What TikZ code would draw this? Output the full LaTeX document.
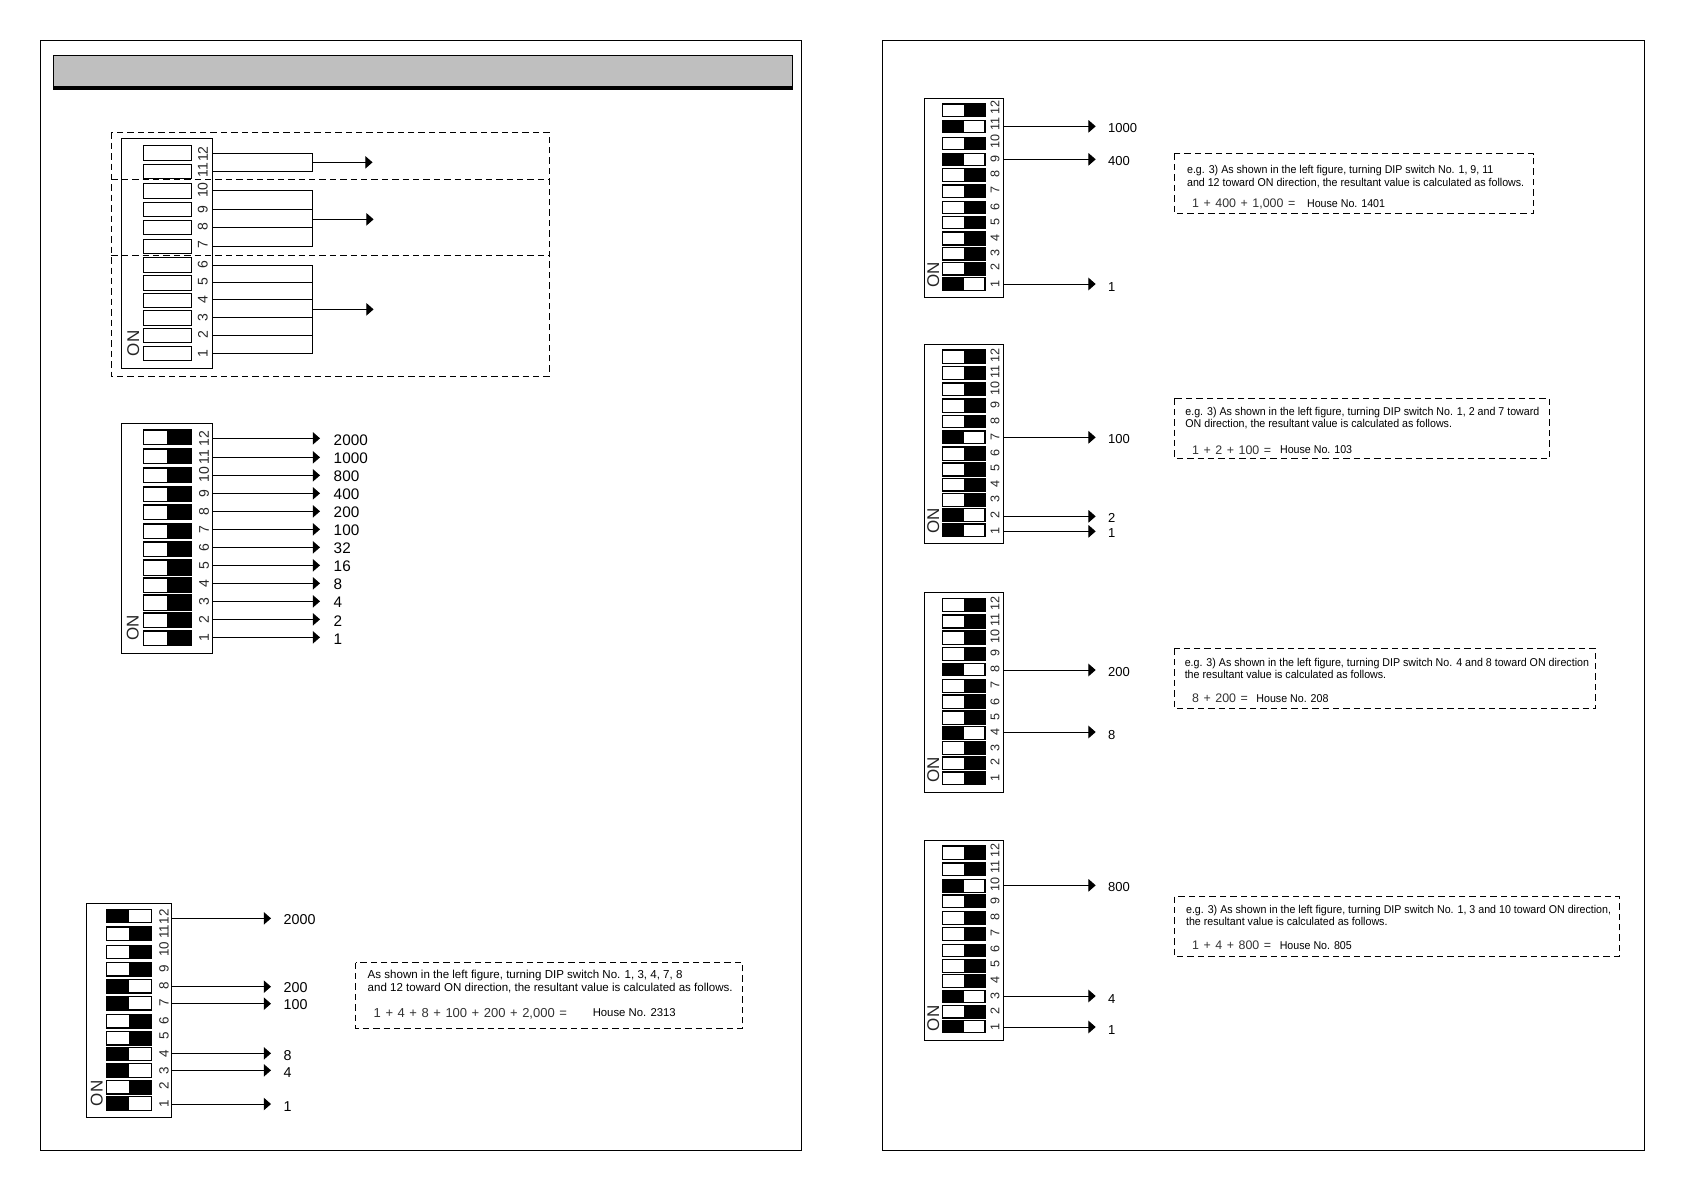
\documentclass[tikz,border=0pt]{standalone}
\usepackage{fontspec}
\setmainfont{Liberation Sans}
\newfontfamily\narrowsans[FakeStretch=0.94]{Liberation Sans}
\usetikzlibrary{arrows.meta}
\newcommand{\wideword}[2]{\spaceskip #1em\relax #2}
\tikzset{
  frameline/.style={draw=black,line width=0.5pt},
  dipcase/.style={draw=black,line width=0.55pt,fill=white},
  togline/.style={draw=black,line width=0.55pt,fill=white},
  wire/.style={draw=black,line width=0.5pt},
  arrowwire/.style={draw=black,line width=0.5pt,-{Triangle[length=3.6pt,width=6.2pt]}},
  dashbox/.style={draw=black,line width=0.5pt,dash pattern=on 3.2pt off 2pt},
  numlab/.style={anchor=base west,inner sep=0pt,yshift=-2.75pt,font=\fontsize{7.65}{9}\selectfont},
  dipnum/.style={rotate=90,inner sep=0pt,font=\fontsize{7}{8}\selectfont,text=black!85},
  onlab/.style={rotate=90,inner sep=0pt,font=\fontsize{8.5}{10}\selectfont,text=black!85},
  notetxt/.style={anchor=base west,inner sep=0pt,yshift=-2pt,font=\fontsize{5.77}{7}\selectfont},
  notenarrow/.style={anchor=base west,inner sep=0pt,yshift=-2pt,font=\narrowsans\fontsize{5.67}{7}\selectfont},
  formula/.style={anchor=base west,inner sep=0pt,yshift=-2.3pt,font=\fontsize{6.2}{8}\selectfont,text=black!80},
  zoomed/.style 2 args={shift={(#1,#2)},x=0.16667pt,y=-0.16667pt},
  rightfig/.style={numlab/.append style={font=\fontsize{6.5}{8}\selectfont},dipnum/.append style={font=\fontsize{6.3}{8}\selectfont}}
}
% prefix, case x0,y0,x1,y1, toggle x0,x1,split, rows top/bottom/state/number y
\newcommand{\dipsw}[9]{%
  \draw[dipcase] (#2,#3) rectangle (#4,#5);
  \foreach \tp/\bt/\st/\ly [count=\ii] in {#9}{%
    \pgfmathtruncatemacro{\nn}{13-\ii}%
    \filldraw[togline] (#6,\tp) rectangle (#7,\bt);
    \ifnum\st=1 \fill[black] (#6,\tp) rectangle (#8,\bt);\fi
    \ifnum\st=2 \fill[black] (#8,\tp) rectangle (#7,\bt);\fi
    \node[dipnum] (#1num\nn) at (\dipnx,\ly) {\nn};
  }%
}
\newcommand{\arrowto}[7]{%
  \coordinate (#1s) at (#2,#4);
  \coordinate (#1t) at (#3,#4);
  \draw[arrowwire] (#1s) -- (#1t);
  \node[numlab] (#1lab) at (#5,#6) {#7};
}
\begin{document}
\begin{tikzpicture}[x=0.5pt,y=-0.5pt]
\useasboundingbox (0,0) rectangle (1684,1190);
\fill[white] (0,0) rectangle (1684,1190);
% page frames
\draw[frameline] (40.5,40.5) rectangle (801.5,1150);
\draw[frameline] (882.5,40.5) rectangle (1644,1150);
% header
\draw[draw=black,line width=0.5pt,fill=black!25] (53,55) rectangle (792.5,87);
\fill[black] (52.7,86) rectangle (792.8,90);

% ---- Figure A
\begin{scope}[shift={(30,30)},x=0.17857pt,y=-0.16667pt]
\def\dipnx{484}
\dipsw{a}{256}{325}{511}{1015}{317}{453}{385}{
346/391/0/372,403/446/0/420,460/505/0/480,517/559/0/538,571/613/0/591,628/670/0/645,682/727/0/704,736/781/0/755,790/832/0/808,841/886/0/862,895/937/0/914,949/991/0/970}
\node[onlab] (aon) at (289,940) {ON};
\foreach \yy/\nm in {370/w12,424/w11}{\coordinate (a\nm s) at (511,\yy);\coordinate (a\nm e) at (791,\yy);\draw[wire] (a\nm s) -- (a\nm e);}
\draw[wire] (aw12e) -- (aw11e);
\coordinate (ab1) at (791,397);\coordinate (at1) at (959,397);
\draw[arrowwire] (ab1) -- (at1);
\foreach \yy/\nm in {481/w10,538/w9,592/w8,649/w7}{\coordinate (a\nm s) at (511,\yy);\coordinate (a\nm e) at (791,\yy);\draw[wire] (a\nm s) -- (a\nm e);}
\draw[wire] (aw10e) -- (aw7e);
\coordinate (ab2) at (791,568);\coordinate (at2) at (962,568);
\draw[arrowwire] (ab2) -- (at2);
\foreach \yy/\nm in {706/w6,757/w5,808/w4,862/w3,916/w2,970/w1}{\coordinate (a\nm s) at (511,\yy);\coordinate (a\nm e) at (791,\yy);\draw[wire] (a\nm s) -- (a\nm e);}
\draw[wire] (aw6e) -- (aw1e);
\coordinate (ab3) at (791,838);\coordinate (at3) at (962,838);
\draw[arrowwire] (ab3) -- (at3);
\draw[dashbox] (228,307) rectangle (1454,1039);
\draw[dashbox] (228,448) -- (1454,448);
\draw[dashbox] (228,676) -- (1454,676);
\end{scope}

% ---- Figure B
\begin{scope}[zoomed={100}{410}]
\def\dipnx{312}
\dipsw{b}{65}{41}{337}{730}{130}{275}{202}{
60/104/2/85,117/161/2/142,174/218/2/194,231/275/2/250,285/329/2/304,342/386/2/358,396/440/2/412,450/497/2/466,504/548/2/520,555/602/2/576,609/653/2/628,663/707/2/684}
\node[onlab] (bon) at (98,653) {ON};
\foreach \yy/\ly/\tx [count=\k] in {85/89/2000,142/143/1000,196/197/800,250/251/400,304/306/200,358/360/100,412/414/32,466/468/16,520/522/8,574/577/4,628/632/2,682/687/1}{
 \arrowto{bw\k}{337}{660}{\yy}{700}{\ly}{\tx}}
\end{scope}

% ---- Figure C
\begin{scope}[zoomed={70}{890},numlab/.append style={font=\fontsize{7.15}{8}\selectfont},dipnum/.append style={font=\fontsize{6.7}{8}\selectfont}]
\def\dipnx{282}
\dipsw{c}{49}{41}{304}{682}{109}{245}{176}{
58/98/1/80,111/152/2/125,166/206/2/178,217/258/2/235,268/309/1/288,319/360/1/338,373/414/2/392,424/465/2/438,472/512/1/490,520/562/1/541,571/612/2/588,619/661/1/640}
\node[onlab] (con) at (80,610) {ON};
\foreach \yy/\ly/\tx [count=\k] in {85/87/2000,290/291/200,341/342/100,490/494/8,541/545/4,642/647/1}{
 \arrowto{cw\k}{304}{603}{\yy}{640}{\ly}{\tx}}
\end{scope}
\begin{scope}[zoomed={340}{950}]
\draw[dashbox] (47,38) rectangle (1208,235);
\node[notetxt] (c1) at (82,74) {As shown in the left figure, turning DIP switch No. 1, 3, 4, 7, 8};
\node[notetxt] (c2) at (82,113) {and 12 toward ON direction, the resultant value is calculated as follows.};
\node[formula,font=\fontsize{6.5}{8}\selectfont] (c3) at (100,188) {\wideword{0.35}{1 + 4 + 8 + 100 + 200 + 2,000 =}};
\node[notetxt,font=\fontsize{5.67}{7}\selectfont] (c4) at (757,188) {House No. 2313};
\end{scope}

% ---- Figure D1
\begin{scope}[zoomed={910}{85},rightfig]
\def\dipnx{255}
\dipsw{d}{43}{41}{281}{637}{97}{225}{161}{
57/95/2/67,106/143/1/118,157/194/2/170,205/242/1/222,250/290/2/268,300/337/2/316,349/386/2/365,394/431/2/410,441/480/2/458,488/525/2/503,532/570/2/547,577/617/1/597}
\node[onlab] (don) at (70,570) {ON};
\foreach \yy/\ly/\tx [count=\k] in {124/127/1000,223/226/400,597/602/1}{
 \arrowto{dw\k}{281}{557}{\yy}{593}{\ly}{\tx}}
\end{scope}
% ---- Figure D2
\begin{scope}[zoomed={910}{335},rightfig]
\def\dipnx{255}
\dipsw{e}{43}{28}{281}{626}{97}{225}{161}{
45/85/2/60,94/134/2/110,144/182/2/160,192/232/2/210,241/278/2/258,288/326/1/306,336/376/2/355,384/423/2/400,430/468/2/447,475/515/2/493,520/560/1/540,567/605/1/588}
\node[onlab] (eon) at (70,558) {ON};
\foreach \yy/\ly/\tx [count=\k] in {307/310/100,544/546/2,589/592/1}{
 \arrowto{ew\k}{281}{557}{\yy}{593}{\ly}{\tx}}
\end{scope}
% ---- Figure D3
\begin{scope}[zoomed={910}{585},rightfig]
\def\dipnx{255}
\dipsw{f}{43}{22}{281}{622}{97}{225}{161}{
40/80/2/55,90/129/2/105,138/179/2/155,187/227/2/205,235/272/1/253,283/322/2/300,330/370/2/350,378/418/2/395,425/463/1/442,469/509/2/488,516/554/2/532,561/599/2/580}
\node[onlab] (fon) at (70,555) {ON};
\foreach \yy/\ly/\tx [count=\k] in {255/258/200,441/447/8}{
 \arrowto{fw\k}{281}{557}{\yy}{593}{\ly}{\tx}}
\end{scope}
% ---- Figure D4
\begin{scope}[zoomed={910}{830},rightfig]
\def\dipnx{255}
\dipsw{g}{43}{32}{281}{632}{97}{225}{161}{
48/88/2/62,99/137/2/112,148/187/1/162,195/233/2/214,244/283/2/262,292/331/2/310,343/380/2/358,388/428/2/403,433/473/2/450,481/518/1/497,526/564/2/543,571/608/1/590}
\node[onlab] (gon) at (70,565) {ON};
\foreach \yy/\ly/\tx [count=\k] in {166/169/800,498/503/4,591/597/1}{
 \arrowto{gw\k}{281}{557}{\yy}{593}{\ly}{\tx}}
\end{scope}

% ---- notes
\begin{scope}[zoomed={1165}{140}]
\draw[dashbox] (28,41) rectangle (1106,220);
\node[notenarrow] (d1) at (65,88) {e.g. 3) As shown in the left figure, turning DIP switch No. 1, 9, 11};
\node[notenarrow] (d2) at (65,126) {and 12 toward ON direction, the resultant value is calculated as follows.};
\node[formula] (d3) at (80,189) {\wideword{0.37}{1 + 400 + 1,000 =}};
\node[notenarrow] (d4) at (425,189) {House No. 1401};
\draw[dashbox] (28,775) rectangle (1154,955);
\node[notenarrow] (e1) at (60,813) {e.g. 3) As shown in the left figure, turning DIP switch No. 1, 2 and 7 toward};
\node[notenarrow] (e2) at (60,851) {ON direction, the resultant value is calculated as follows.};
\node[formula] (e3) at (80,929) {\wideword{0.37}{1 + 2 + 100 =}};
\node[notenarrow] (e4) at (344,929) {House No. 103};
\end{scope}
\begin{scope}[zoomed={1165}{630}]
\draw[dashbox] (28,56) rectangle (1292,235);
\node[notenarrow] (f1) at (58,96) {e.g. 3) As shown in the left figure, turning DIP switch No. 4 and 8 toward ON direction};
\node[notenarrow] (f2) at (58,133) {the resultant value is calculated as follows.};
\node[formula] (f3) at (80,204) {\wideword{0.37}{8 + 200 =}};
\node[notenarrow] (f4) at (273,204) {House No. 208};
\draw[dashbox] (28,800) rectangle (1362,979);
\node[notenarrow] (g1) at (62,837) {e.g. 3) As shown in the left figure, turning DIP switch No. 1, 3 and 10 toward ON direction,};
\node[notenarrow] (g2) at (62,874) {the resultant value is calculated as follows.};
\node[formula] (g3) at (80,946) {\wideword{0.37}{1 + 4 + 800 =}};
\node[notenarrow] (g4) at (343,946) {House No. 805};
\end{scope}
\end{tikzpicture}
\end{document}
